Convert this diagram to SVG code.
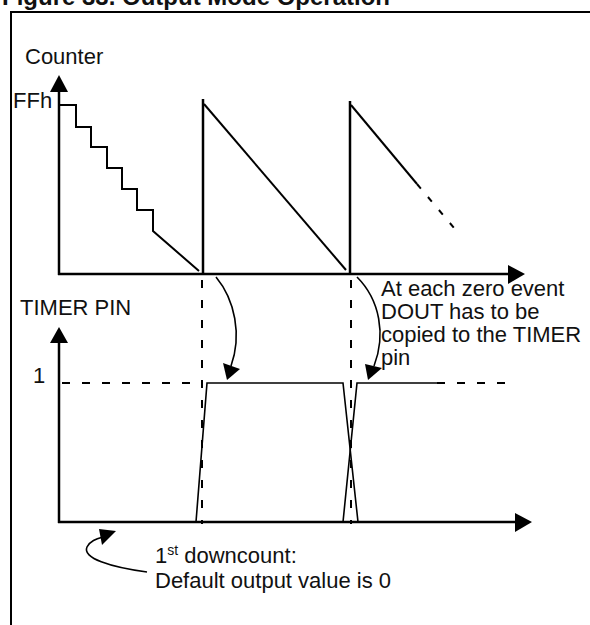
<svg xmlns="http://www.w3.org/2000/svg" width="590" height="625" viewBox="0 0 590 625">
<style>
text{font-family:"Liberation Sans",Arial,sans-serif;font-size:22px;fill:#111}
.title{font-weight:bold;font-size:24px}
.ax{stroke:#000;stroke-width:2.5;fill:none}
.ln{stroke:#000;stroke-width:2;fill:none}
.thin{stroke:#000;stroke-width:1.6;fill:none}
.dash{stroke:#000;stroke-width:2;fill:none;stroke-dasharray:8 12}
.hd{fill:#000;stroke:none}
</style>
<rect width="590" height="625" fill="#fff"/>
<text class="title" x="2" y="5">Figure 33. Output Mode Operation</text>
<rect x="11" y="12" width="620" height="660" fill="none" stroke="#000" stroke-width="2"/>
<g id="counter-axes">
<line class="ax" x1="59" y1="90" x2="59" y2="275"/>
<polygon class="hd" points="59,75 50,92 68,92"/>
<line class="ax" x1="58" y1="274" x2="510" y2="274"/>
<polygon class="hd" points="525,274 508,265 508,284"/>
<text x="25" y="64">Counter</text>
<text x="13" y="108">FFh</text>
</g>
<g id="counter-signal">
<path class="ln" d="M59,105 H76 V127 H91 V147 H107 V168 H122 V189 H137 V210 H153 V231 L199,271"/>
<line class="ax" x1="203" y1="99" x2="203" y2="275"/>
<line class="ln" x1="204" y1="104" x2="346" y2="270"/>
<line class="ax" x1="350" y1="101" x2="350" y2="275"/>
<line class="ln" x1="351" y1="105" x2="417" y2="184"/>
<line class="ln" x1="417" y1="184" x2="460" y2="235" stroke-dasharray="6 11"/>
</g>
<g id="timer-axes">
<line class="ax" x1="59" y1="340" x2="59" y2="523"/>
<polygon class="hd" points="59,327 50,343 68,343"/>
<line class="ax" x1="58" y1="522" x2="517" y2="522"/>
<polygon class="hd" points="532,522 515,513 515,532"/>
<text x="20" y="315">TIMER PIN</text>
<text x="33" y="383">1</text>
</g>
<g id="timer-signal">
<polyline class="thin" points="196,522 207,383 343,383 358,522"/>
<polyline class="thin" points="343,522 357,383 437,383"/>
<line class="dash" x1="437" y1="383" x2="516" y2="383"/>
<line class="dash" x1="62" y1="383" x2="201" y2="383"/>
</g>
<g id="connectors">
<line class="dash" x1="202" y1="280" x2="202" y2="524"/>
<line class="dash" x1="351" y1="280" x2="351" y2="524"/>
<path class="thin" d="M216,277 C235,300 242,335 231,366"/>
<polygon class="hd" points="223,363 240,369 227,380"/>
<path class="thin" d="M357,277 C380,300 386,335 374,366"/>
<polygon class="hd" points="365,364 382,368 368,380"/>
<path class="thin" d="M147,572 C110,567 82,558 87,547 C90,541 96,539 103,537"/>
<polygon class="hd" points="99,529 116,531 102,545"/>
</g>
<g id="notes">
<text x="381" y="296">At each zero event</text>
<text x="381" y="319">DOUT has to be</text>
<text x="381" y="342">copied to the TIMER</text>
<text x="381" y="365">pin</text>
<text x="155" y="563">1<tspan font-size="14" dy="-8">st</tspan><tspan dy="8"> downcount:</tspan></text>
<text x="155" y="588">Default output value is 0</text>
</g>
</svg>
